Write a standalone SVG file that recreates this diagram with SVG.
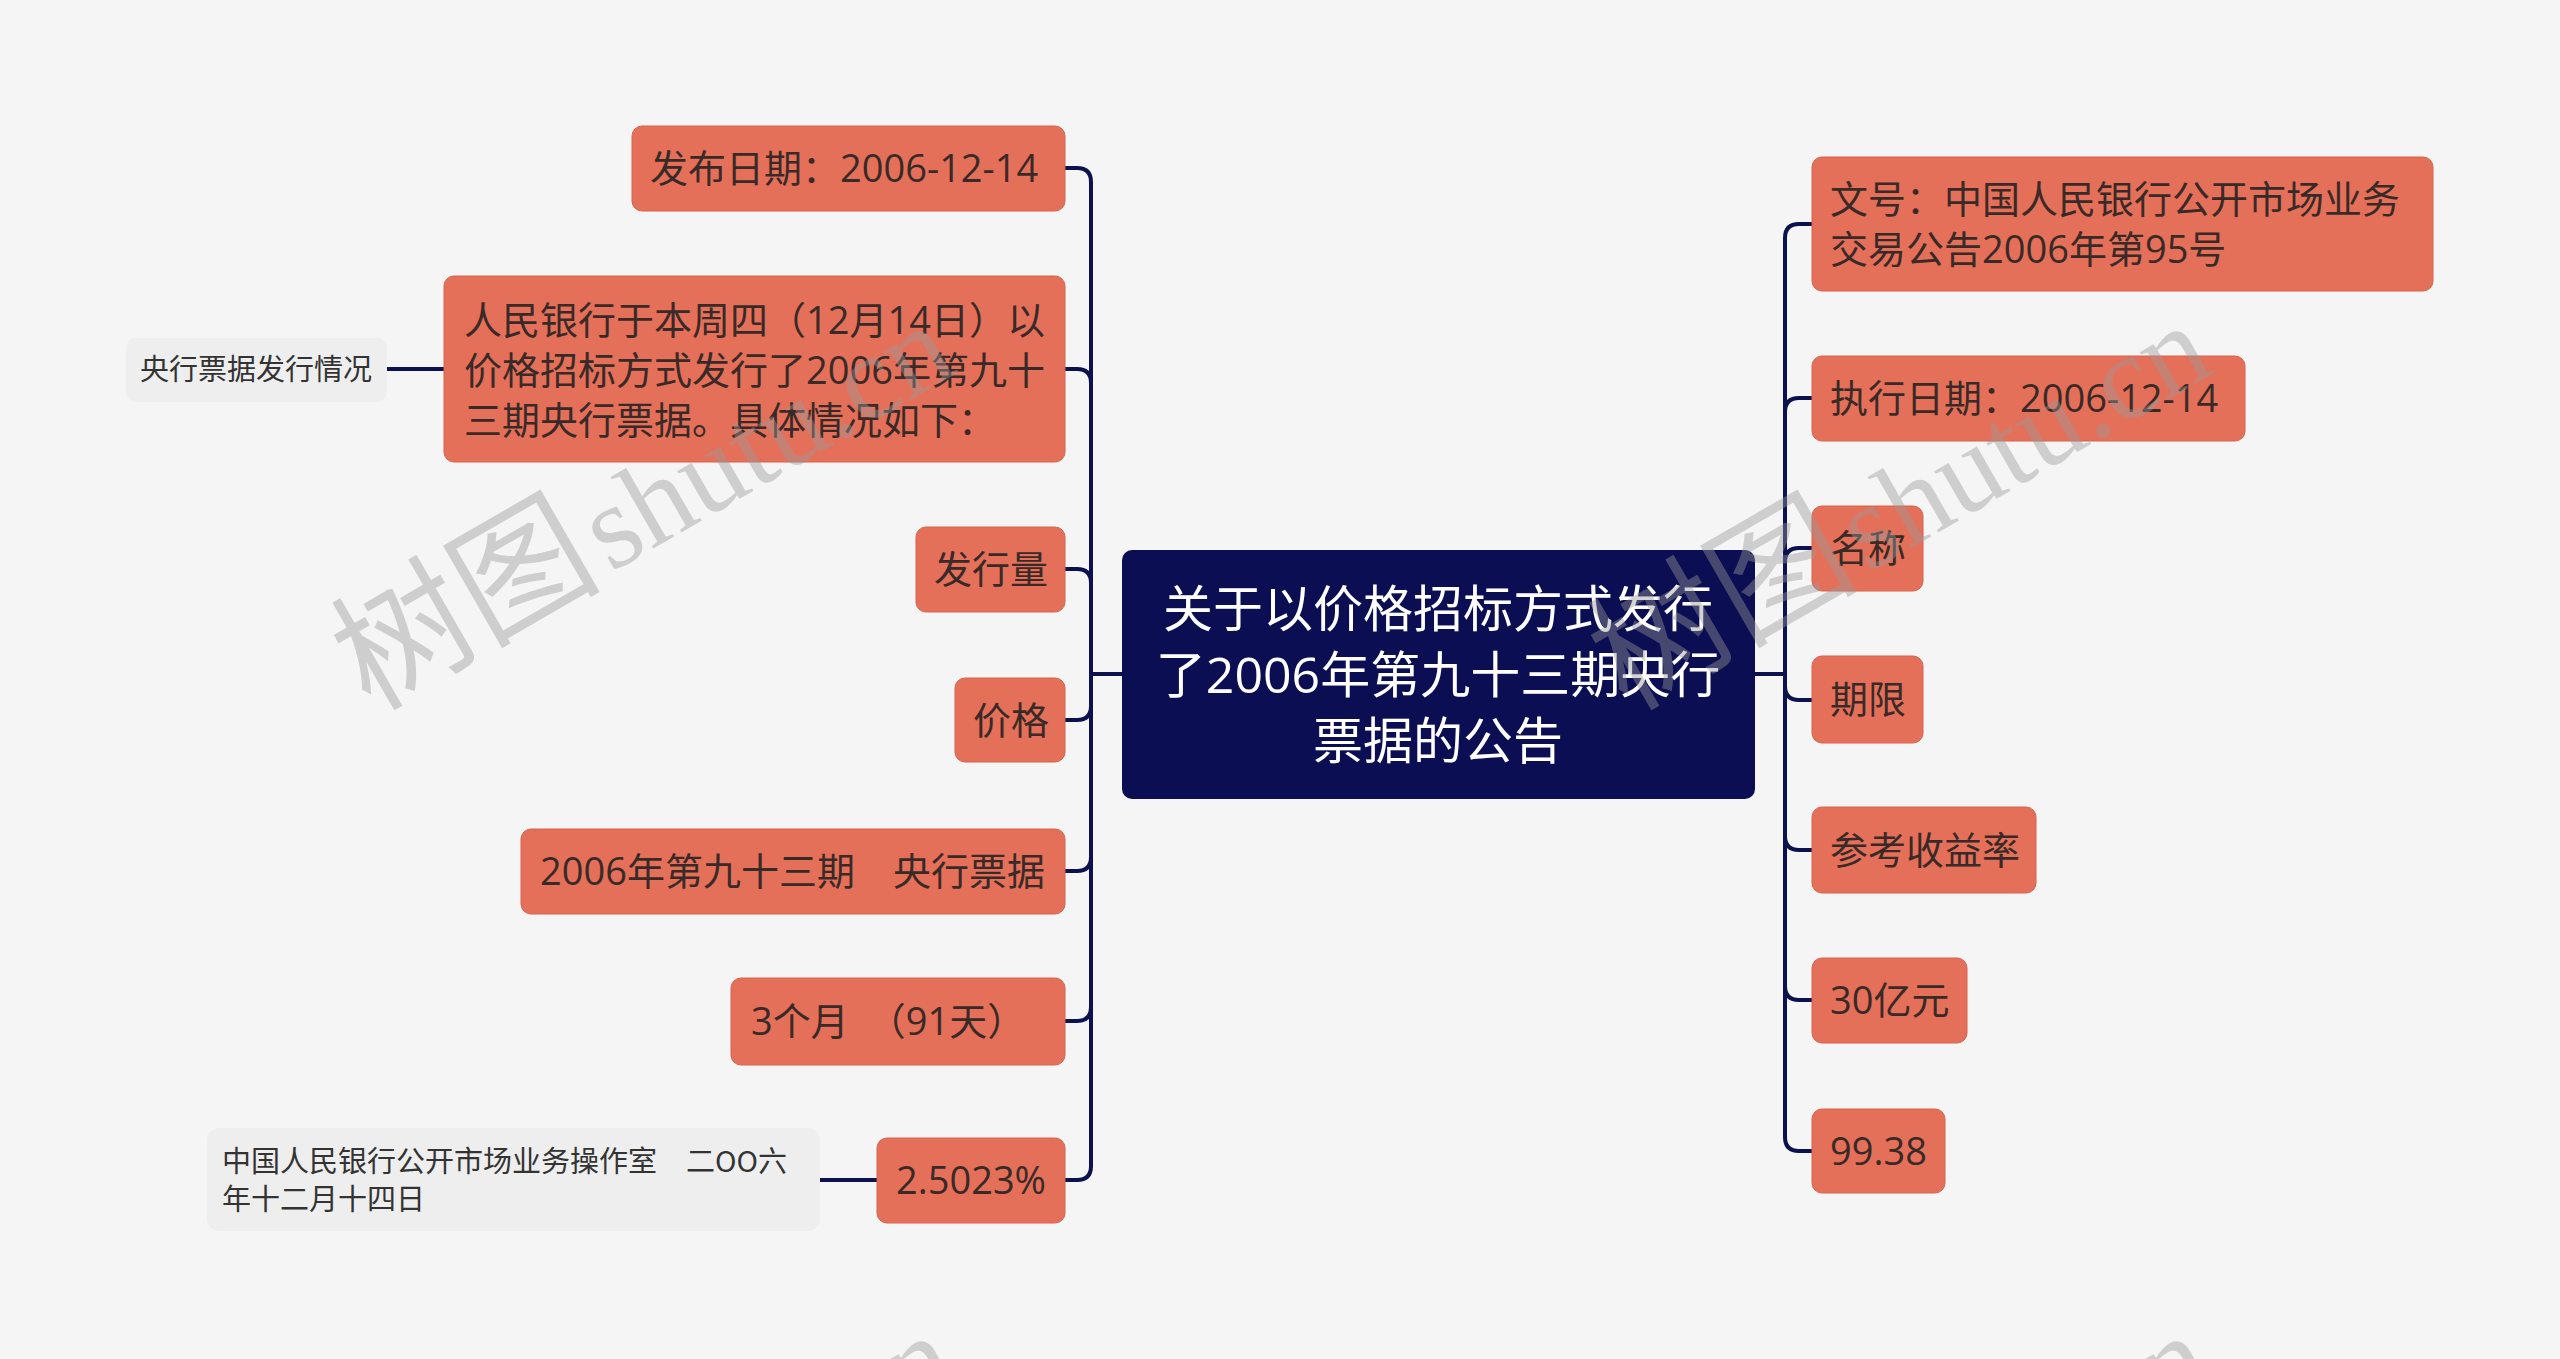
<svg xmlns="http://www.w3.org/2000/svg" width="2560" height="1359" viewBox="0 0 2560 1359">
<defs>
<style>
.bg{fill:#f5f5f5}
.sub rect{fill:#e5705a;stroke:#d8624d;stroke-width:1}
.sub text{font-family:"Open Sans","Noto Sans CJK SC",sans-serif;font-size:38px;fill:#3a2a27}
.note rect{fill:#eeeeee}
.note text{font-family:"Noto Sans CJK SC",sans-serif;font-size:29px;fill:#333333}
.root rect{fill:#0b0e52}
.root text{font-family:"Open Sans","Noto Sans CJK SC",sans-serif;font-size:50px;fill:#ffffff;text-anchor:middle}
.conn path{fill:none;stroke:#0c1150;stroke-width:4;stroke-linecap:round}
.wm{font-family:"Liberation Serif","Noto Sans CJK SC",serif;font-size:120px;fill:#999999;opacity:0.42}
.wm .cjk{font-size:135px}
</style>
</defs>
<rect class="bg" x="0" y="0" width="2560" height="1359"/>

<g id="connectors" class="conn">
<path d="M1122,674 H1091"/>
<path d="M1091,674 V182 Q1091,168 1077,168 H1065"/>
<path d="M1091,674 V383 Q1091,369 1077,369 H1065"/>
<path d="M1091,674 V583 Q1091,569 1077,569 H1065"/>
<path d="M1091,674 V706 Q1091,720 1077,720 H1065"/>
<path d="M1091,674 V857 Q1091,871 1077,871 H1065"/>
<path d="M1091,674 V1007 Q1091,1021 1077,1021 H1065"/>
<path d="M1091,674 V1166 Q1091,1180 1077,1180 H1065"/>
<path d="M444,369 H387"/>
<path d="M877,1180 H820"/>
<path d="M1755,674 H1785"/>
<path d="M1785,674 V238 Q1785,224 1799,224 H1812"/>
<path d="M1785,674 V412 Q1785,398 1799,398 H1812"/>
<path d="M1785,674 V562 Q1785,548 1799,548 H1812"/>
<path d="M1785,674 V686 Q1785,700 1799,700 H1812"/>
<path d="M1785,674 V836 Q1785,850 1799,850 H1812"/>
<path d="M1785,674 V986 Q1785,1000 1799,1000 H1812"/>
<path d="M1785,674 V1137 Q1785,1151 1799,1151 H1812"/>
</g>

<g id="root" class="root">
<rect x="1122" y="550" width="633" height="249" rx="10"/>
<text x="1438" y="627">关于以价格招标方式发行</text>
<text x="1438" y="693">了2006年第九十三期央行</text>
<text x="1438" y="759">票据的公告</text>
</g>

<g id="n-fabu" class="sub">
<rect x="632" y="126" width="433" height="85" rx="10"/>
<text x="650" y="182">发布日期：2006-12-14</text>
</g>
<g id="n-renmin" class="sub">
<rect x="444" y="276" width="621" height="186" rx="10"/>
<text x="464" y="334">人民银行于本周四（12月14日）以</text>
<text x="464" y="384">价格招标方式发行了2006年第九十</text>
<text x="464" y="434">三期央行票据。具体情况如下：</text>
</g>
<g id="n-yanghang" class="note">
<rect x="126" y="338" width="261" height="64" rx="10"/>
<text x="140" y="380">央行票据发行情况</text>
</g>
<g id="n-faxingliang" class="sub">
<rect x="916" y="527" width="149" height="85" rx="10"/>
<text x="934" y="583">发行量</text>
</g>
<g id="n-jiage" class="sub">
<rect x="955" y="678" width="110" height="84" rx="10"/>
<text x="973" y="734">价格</text>
</g>
<g id="n-2006" class="sub">
<rect x="521" y="829" width="544" height="85" rx="10"/>
<text x="540" y="885">2006年第九十三期　央行票据</text>
</g>
<g id="n-3month" class="sub">
<rect x="731" y="978" width="334" height="87" rx="10"/>
<text x="751" y="1035">3个月　（91天）</text>
</g>
<g id="n-rate" class="sub">
<rect x="877" y="1138" width="188" height="85" rx="10"/>
<text x="896" y="1194">2.5023%</text>
</g>
<g id="n-office" class="note">
<rect x="207" y="1128" width="613" height="103" rx="12"/>
<text x="222" y="1172">中国人民银行公开市场业务操作室　二OO六</text>
<text x="222" y="1210">年十二月十四日</text>
</g>

<g id="n-wenhao" class="sub">
<rect x="1812" y="157" width="621" height="134" rx="10"/>
<text x="1830" y="213">文号：中国人民银行公开市场业务</text>
<text x="1830" y="263">交易公告2006年第95号</text>
</g>
<g id="n-zhixing" class="sub">
<rect x="1812" y="356" width="433" height="85" rx="10"/>
<text x="1830" y="412">执行日期：2006-12-14</text>
</g>
<g id="n-mingcheng" class="sub">
<rect x="1812" y="506" width="111" height="85" rx="10"/>
<text x="1830" y="562">名称</text>
</g>
<g id="n-qixian" class="sub">
<rect x="1812" y="656" width="111" height="87" rx="10"/>
<text x="1830" y="713">期限</text>
</g>
<g id="n-cankao" class="sub">
<rect x="1812" y="807" width="224" height="86" rx="10"/>
<text x="1830" y="864">参考收益率</text>
</g>
<g id="n-30yi" class="sub">
<rect x="1812" y="958" width="155" height="85" rx="10"/>
<text x="1830" y="1014">30亿元</text>
</g>
<g id="n-9938" class="sub">
<rect x="1812" y="1109" width="133" height="84" rx="10"/>
<text x="1830" y="1165">99.38</text>
</g>

<g id="watermark">
<text class="wm" transform="translate(370,712) rotate(-30)"><tspan class="cjk" x="0">树图</tspan><tspan x="278">shutu.cn</tspan></text>
<text class="wm" transform="translate(1627,712) rotate(-30)"><tspan class="cjk" x="0">树图</tspan><tspan x="278">shutu.cn</tspan></text>
<text class="wm" transform="translate(372,1722) rotate(-30)"><tspan class="cjk" x="0">树图</tspan><tspan x="278">shutu.cn</tspan></text>
<text class="wm" transform="translate(1627,1722) rotate(-30)"><tspan class="cjk" x="0">树图</tspan><tspan x="278">shutu.cn</tspan></text>
</g>
</svg>
